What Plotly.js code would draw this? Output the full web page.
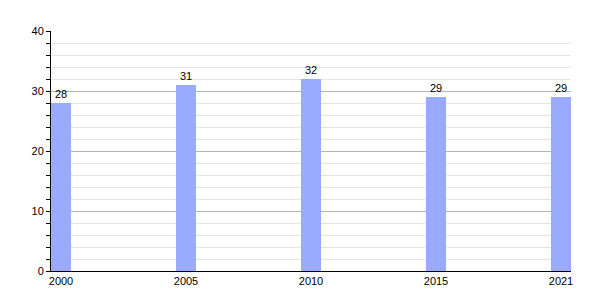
<!DOCTYPE html>
<html><head><meta charset="utf-8">
<script src="https://cdn.plot.ly/plotly-3.0.1.min.js"></script>
<style>html,body{margin:0;padding:0;background:#fff}</style>
</head><body><div id="chart" style="width:600px;height:300px"></div>
<script>
const years = ['2000','2005','2010','2015','2021'];
const values = [28, 31, 32, 29, 29];

Plotly.newPlot('chart', [{
  type: 'bar',
  x: years,
  y: values,
  width: 0.16,
  marker: {color: '#99aaff', line: {width: 0}},
  text: values.map(String),
  textposition: 'outside',
  textfont: {family: 'Liberation Sans, Arial, sans-serif', size: 11, color: '#000'},
  cliponaxis: false,
  hoverinfo: 'x+y'
}], {
  width: 600, height: 300,
  margin: {l: 51, r: 29, t: 31, b: 29},
  paper_bgcolor: '#fff', plot_bgcolor: '#fff',
  font: {family: 'Liberation Sans, Arial, sans-serif', size: 11, color: '#000'},
  showlegend: false,
  bargap: 0,
  xaxis: {
    type: 'category',
    range: [-0.08, 4.08],
    showline: true, linecolor: '#000', linewidth: 1,
    ticks: '', showgrid: false, zeroline: false,
    tickfont: {size: 11}
  },
  yaxis: {
    range: [0, 40], dtick: 10,
    showline: true, linecolor: '#000', linewidth: 1,
    ticks: 'outside', ticklen: 4, tickcolor: '#000',
    showgrid: true, gridcolor: '#b4b4b4', gridwidth: 1,
    zeroline: false,
    tickfont: {size: 11},
    minor: {dtick: 2, showgrid: true, gridcolor: '#e4e4e4', ticks: 'outside', ticklen: 4, tickcolor: '#000'}
  }
}, {displayModeBar: false, staticPlot: true});
</script></body></html>
